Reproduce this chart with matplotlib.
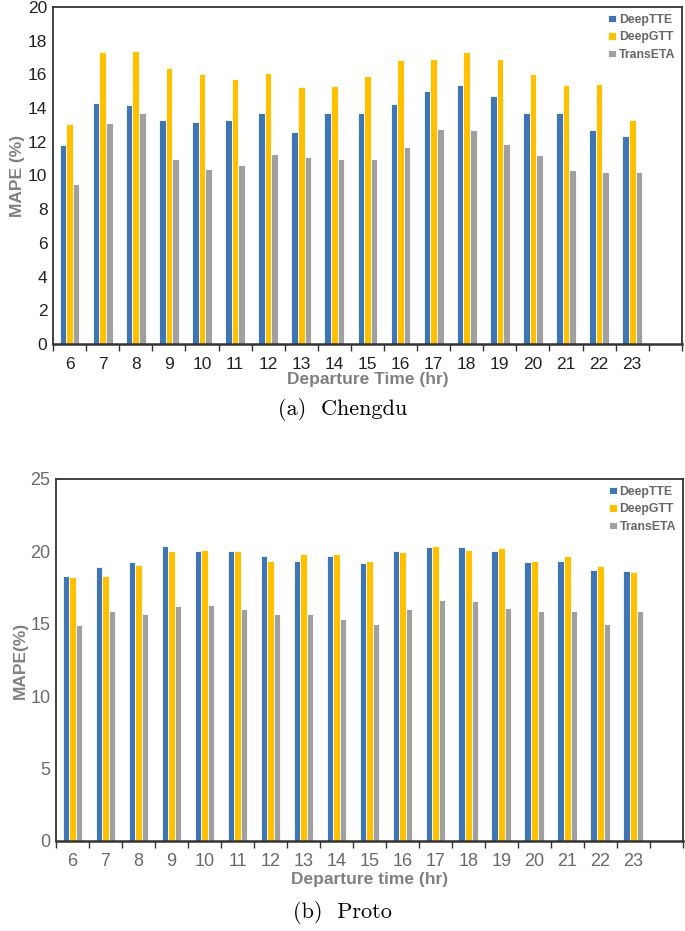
import numpy as np
import matplotlib.pyplot as plt

hours = [str(h) for h in range(6, 24)]
models = ['DeepTTE', 'DeepGTT', 'TransETA']
colors = ['#3E75B5', '#FFC000', '#A0A0A0']

# Chengdu MAPE (%)
cd_deeptte = [11.8, 14.3, 14.2, 13.3, 13.15, 13.3, 13.7, 12.6, 13.7, 13.7, 14.25, 15.0, 15.35, 14.7, 13.7, 13.7, 12.7, 12.35]
cd_deepgtt = [13.05, 17.3, 17.4, 16.4, 16.03, 15.7, 16.07, 15.25, 15.3, 15.9, 16.83, 16.9, 17.35, 16.9, 16.03, 15.35, 15.4, 13.3]
cd_transeta = [9.5, 13.1, 13.7, 11.0, 10.4, 10.6, 11.25, 11.1, 10.95, 11.0, 11.7, 12.75, 12.7, 11.85, 11.2, 10.35, 10.2, 10.2]

# Proto MAPE (%)
pr_deeptte = [18.3, 18.9, 19.3, 20.35, 20.0, 20.0, 19.65, 19.35, 19.65, 19.2, 20.0, 20.3, 20.3, 20.0, 19.25, 19.35, 18.7, 18.65]
pr_deepgtt = [18.2, 18.3, 19.05, 20.0, 20.1, 20.0, 19.35, 19.8, 19.8, 19.35, 19.95, 20.35, 20.1, 20.2, 19.35, 19.65, 19.0, 18.55]
pr_transeta = [14.9, 15.85, 15.65, 16.25, 16.3, 16.0, 15.65, 15.65, 15.3, 15.0, 16.05, 16.65, 16.55, 16.1, 15.9, 15.85, 15.0, 15.9]

tick_font = ['Liberation Sans', 'DejaVu Sans']
label_gray = '#808080'


def draw_panel(ax, series, ymax, ystep, ylabel, xlabel, tick_color, tick_size, xpad, lpad):
    x = np.arange(len(hours))
    w = 0.2
    for i, (vals, c, name) in enumerate(zip(series, colors, models)):
        ax.bar(x + (i - 1) * w, vals, w, color=c, edgecolor='white', linewidth=0.6, label=name)
    ax.set_xlim(-0.5, len(hours) + 0.5)
    ax.set_ylim(0, ymax)
    ax.set_yticks(np.arange(0, ymax + 0.1, ystep))
    ax.set_xticks(x)
    ax.set_xticklabels(hours)
    ax.set_xticks(np.arange(-0.5, len(hours) + 1), minor=True)
    ax.tick_params(axis='x', which='major', length=0, pad=xpad, labelsize=tick_size, labelcolor=tick_color)
    ax.tick_params(axis='x', which='minor', length=5, width=1, color='#333333', direction='out')
    ax.tick_params(axis='y', length=0, pad=4, labelsize=tick_size, labelcolor=tick_color)
    for lab in ax.get_xticklabels() + ax.get_yticklabels():
        lab.set_fontfamily(tick_font)
    for sp in ax.spines.values():
        sp.set_color('#333333')
        sp.set_linewidth(1.3)
    ax.spines['bottom'].set_linewidth(1.8)
    ax.set_ylabel(ylabel, fontsize=12.5, fontweight='bold', color=label_gray, family=tick_font, labelpad=2)
    ax.set_xlabel(xlabel, fontsize=12.5, fontweight='bold', color=label_gray, family=tick_font, labelpad=lpad)
    leg = ax.legend(loc='upper right', frameon=False, handlelength=0.6, handleheight=0.6,
                    handletextpad=0.25, labelspacing=0.45, borderaxespad=0.15,
                    prop={'family': tick_font, 'weight': 'bold', 'size': 8.8})
    for t in leg.get_texts():
        t.set_color('#666666')


fig = plt.figure(figsize=(6.85, 9.31), dpi=100)
ax1 = fig.add_axes([0.0774, 0.6305, 0.918, 0.362])
ax2 = fig.add_axes([0.0818, 0.0967, 0.915, 0.3888])

draw_panel(ax1, [cd_deeptte, cd_deepgtt, cd_transeta], 20, 2, 'MAPE (%)', 'Departure Time (hr)',
           '#222222', 12.5, 9, 0)
draw_panel(ax2, [pr_deeptte, pr_deepgtt, pr_transeta], 25, 5, 'MAPE(%)', 'Departure time (hr)',
           '#6a6a6a', 13, 9, 1)

fig.text(0.5, 1 - 410 / 931, '(a)  Chengdu', ha='center', va='center', fontsize=16, family='cmr10')
fig.text(0.5, 1 - 912 / 931, '(b)  Proto', ha='center', va='center', fontsize=16, family='cmr10')

fig.savefig('out.png', dpi=100)
